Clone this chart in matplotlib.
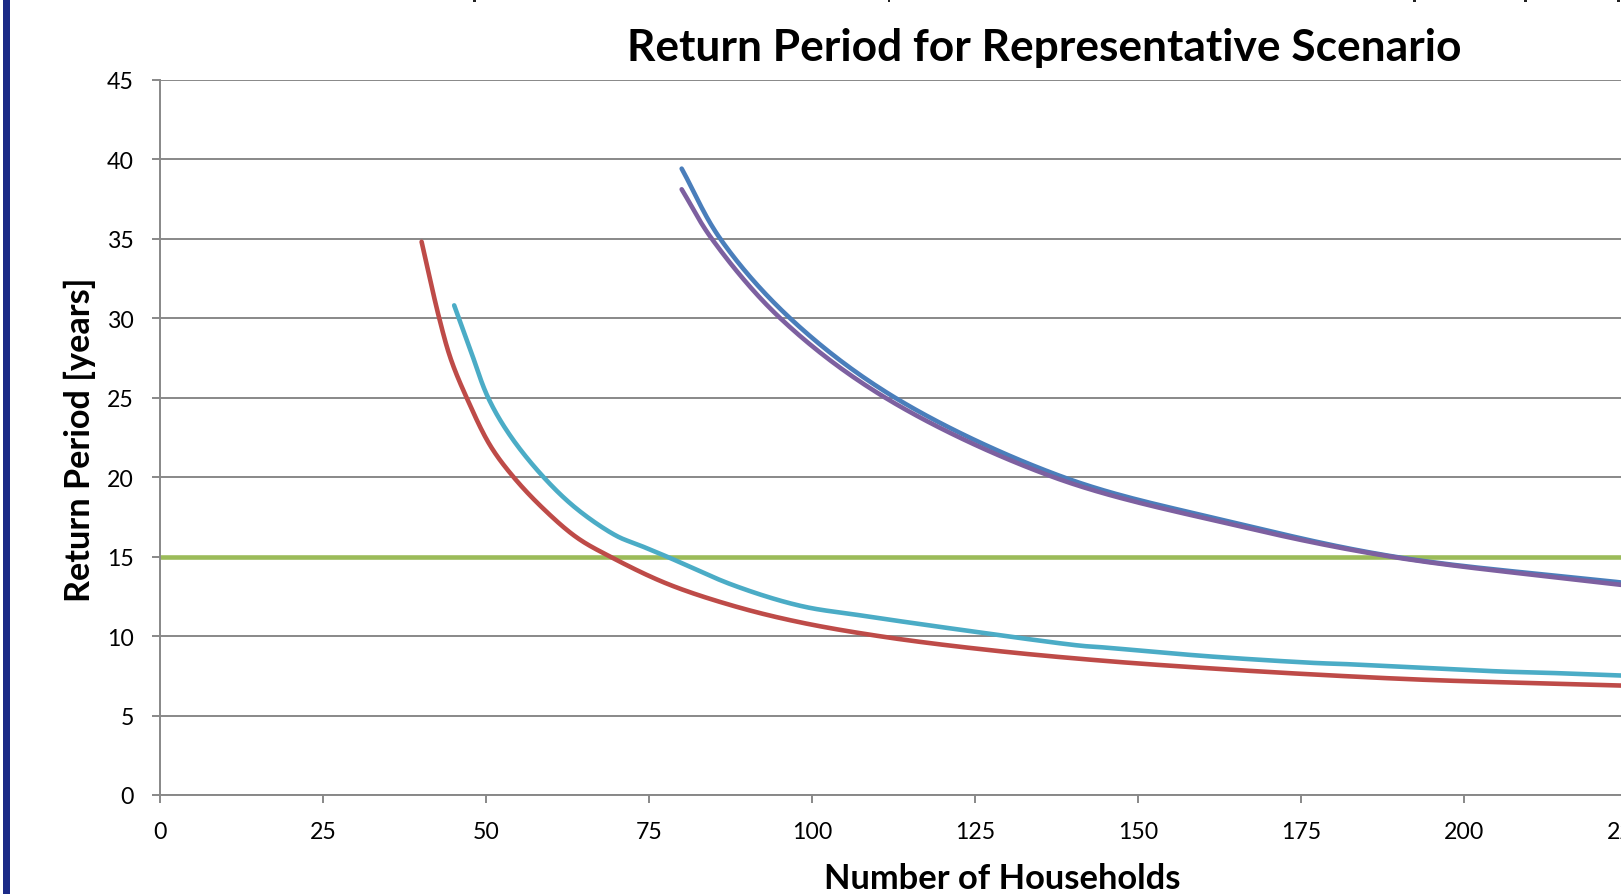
import matplotlib
matplotlib.use("Agg")
import numpy as np
import matplotlib.pyplot as plt
from matplotlib.patches import Rectangle

# ---------------- data ----------------
x_blue = [80.0, 85.9, 96.6, 112.7, 138.5, 164.6, 189.2, 224.5]
y_blue = [39.4, 35.0, 30.0, 25.0, 20.0, 17.15, 15.0, 13.35]

x_purple = [80.0, 84.6, 95.1, 111.2, 137.0, 164.6, 188.7, 224.5]
y_purple = [38.1, 35.0, 30.0, 25.0, 20.0, 17.0, 15.0, 13.2]

x_red = [40.1, 42.8, 44.6, 47.0, 50.6, 54.2, 58.8, 63.9, 69.0, 77.7, 87.9, 98.2,
         111.5, 128.0, 144.5, 160.9, 177.4, 193.8, 210.3, 224.5]
y_red = [34.8, 30.0, 27.4, 25.0, 22.0, 20.0, 18.0, 16.2, 15.0, 13.3, 11.9, 10.86,
         9.92, 9.08, 8.45, 7.97, 7.57, 7.25, 7.04, 6.88]

x_cyan = [45.1, 47.5, 50.3, 53.7, 58.8, 63.9, 70.0, 73.6, 77.7, 87.9, 98.2, 107.4,
          123.9, 141.2, 144.5, 160.9, 177.4, 181.5, 206.2, 210.3, 224.5]
y_cyan = [30.8, 28.1, 25.0, 22.6, 20.0, 18.0, 16.3, 15.7, 15.0, 13.2, 11.9, 11.3,
          10.33, 9.39, 9.29, 8.72, 8.30, 8.24, 7.76, 7.72, 7.51]

x_threshold = [0, 250]
y_threshold = [15, 15]

x_ticks = [0, 25, 50, 75, 100, 125, 150, 175, 200, 225]
y_ticks = [0, 5, 10, 15, 20, 25, 30, 35, 40, 45]

title = "Return Period for Representative Scenario"
xlabel = "Number of Households"
ylabel = "Return Period [years]"

# ---------------- figure ----------------
W, H = 1621, 895
DPI = 100
plt.rcParams['font.family'] = ['Lato', 'DejaVu Sans']
fig = plt.figure(figsize=(W / DPI, H / DPI), dpi=DPI)
fig.patch.set_facecolor('white')

# left navy bar of the slide
fig.patches.append(Rectangle((2.7 / W, 0), 7.5 / W, 1, transform=fig.transFigure,
                             facecolor='#1B2A87', edgecolor='none', zorder=5))
# tiny remnants of the cut-off text line above the chart
for xm in [474, 889, 1414, 1525, 1618]:
    fig.patches.append(Rectangle(((xm - 1.5) / W, 1 - 3 / H), 3 / W, 3 / H,
                                 transform=fig.transFigure, facecolor='#222222',
                                 edgecolor='none', zorder=5))

px_per_25 = 162.96
left_px, bottom_px, top_px = 160.2, 796.0, 80.6
xmax = 250
ax = fig.add_axes([left_px / W, (H - bottom_px) / H,
                   (xmax / 25 * px_per_25) / W, (bottom_px - top_px) / H])
ax.set_xlim(0, xmax)
ax.set_ylim(0, 45)

grey = '#888888'
ax.set_yticks(y_ticks)
ax.set_xticks(x_ticks)
ax.yaxis.grid(True, color=grey, linewidth=1.4)
ax.set_axisbelow(True)
for s in ['top', 'right']:
    ax.spines[s].set_visible(False)
for s in ['left', 'bottom']:
    ax.spines[s].set_color(grey)
    ax.spines[s].set_linewidth(1.4)
ax.tick_params(axis='both', direction='out', length=6, width=1.4, color=grey,
               pad=13, labelcolor='black')


def smooth(xs, ys, n=30):
    """Centripetal Catmull-Rom smoothing (like a spreadsheet's smoothed line),
    computed in pixel space so that the curve shape is not distorted."""
    pts = ax.transData.transform(np.column_stack([xs, ys]))
    P = np.vstack([2 * pts[0] - pts[1], pts, 2 * pts[-1] - pts[-2]])
    out = [P[1]]
    for i in range(1, len(P) - 2):
        p0, p1, p2, p3 = P[i - 1], P[i], P[i + 1], P[i + 2]
        t0 = 0.0
        t1 = t0 + np.linalg.norm(p1 - p0) ** 0.5
        t2 = t1 + np.linalg.norm(p2 - p1) ** 0.5
        t3 = t2 + np.linalg.norm(p3 - p2) ** 0.5
        t = np.linspace(t1, t2, n)[1:, None]
        A1 = (t1 - t) / (t1 - t0) * p0 + (t - t0) / (t1 - t0) * p1
        A2 = (t2 - t) / (t2 - t1) * p1 + (t - t1) / (t2 - t1) * p2
        A3 = (t3 - t) / (t3 - t2) * p2 + (t - t2) / (t3 - t2) * p3
        B1 = (t2 - t) / (t2 - t0) * A1 + (t - t0) / (t2 - t0) * A2
        B2 = (t3 - t) / (t3 - t1) * A2 + (t - t1) / (t3 - t1) * A3
        C = (t2 - t) / (t2 - t1) * B1 + (t - t1) / (t2 - t1) * B2
        out.extend(C)
    out = ax.transData.inverted().transform(np.array(out))
    return out[:, 0], out[:, 1]


lw = 3.3
ax.plot(x_threshold, y_threshold, color='#9BBB59', lw=lw, solid_capstyle='butt', zorder=2)
for xs, ys, c, z in [(x_blue, y_blue, '#4A7EBB', 3), (x_red, y_red, '#BE4B48', 3),
                     (x_purple, y_purple, '#7D60A0', 4), (x_cyan, y_cyan, '#4BACC6', 4)]:
    sx, sy = smooth(xs, ys)
    ax.plot(sx, sy, color=c, lw=lw, solid_capstyle='round', solid_joinstyle='round', zorder=z)

renderer = fig.canvas.get_renderer()


def fit(t, target, vertical=False, start=20):
    t.set_fontsize(start)
    for _ in range(4):
        bb = t.get_window_extent(renderer)
        cur = bb.height if vertical else bb.width
        t.set_fontsize(t.get_fontsize() * target / cur)


tt = fig.text(1044 / W, 1 - 47.5 / H, title, ha='center', va='center', fontweight='bold')
fit(tt, 834)
xl = fig.text(1002 / W, 1 - 879 / H, xlabel, ha='center', va='center', fontweight='bold')
fit(xl, 356)
yl = fig.text(80 / W, 1 - 439.5 / H, ylabel, ha='center', va='center', fontweight='bold',
              rotation=90)
fit(yl, 325, vertical=True)

probe = fig.text(0, 0, "200")
fit(probe, 40)
tick_fs = probe.get_fontsize()
probe.remove()
ax.tick_params(labelsize=tick_fs)

fig.savefig("out.png", dpi=DPI, facecolor='white')
